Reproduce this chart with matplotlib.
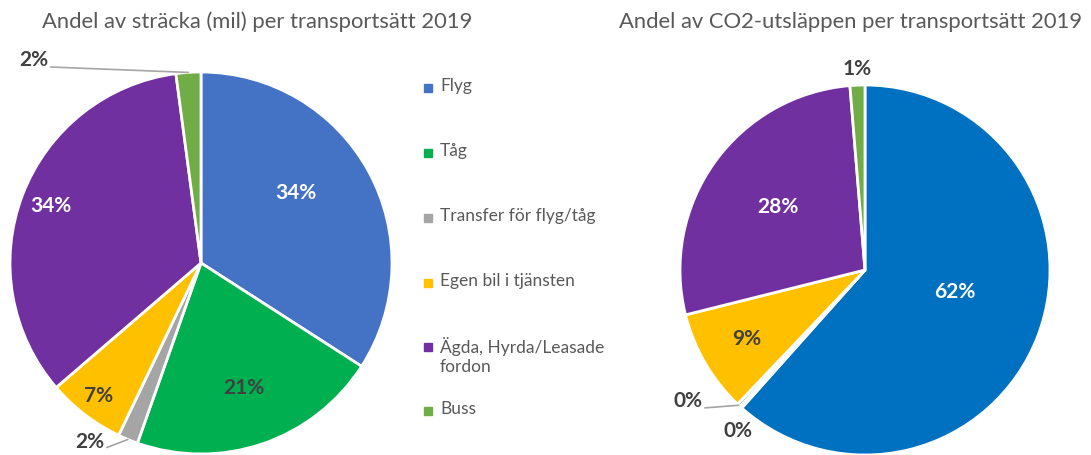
import numpy as np
import matplotlib
matplotlib.use("Agg")
import matplotlib.pyplot as plt
from matplotlib.patches import Rectangle

plt.rcParams['font.family'] = ['Lato', 'DejaVu Sans']

categories = ["Flyg", "Tåg", "Transfer för flyg/tåg", "Egen bil i tjänsten",
              "Ägda, Hyrda/Leasade\nfordon", "Buss"]
distance_share = [34.1, 21.3, 1.7, 6.6, 34.2, 2.1]
co2_share = [61.6, 0.2, 0.3, 9.0, 27.6, 1.3]

left_colors = ["#4472C4", "#00B050", "#A5A5A5", "#FFC000", "#7030A0", "#70AD47"]
right_colors = ["#0070C0", "#00B050", "#A5A5A5", "#FFC000", "#7030A0", "#70AD47"]

# label placement per wedge: (radius fraction, angle or None for mid, colour, leader line)
left_label = [(0.62, 36.5, "white", False), (0.69, None, "#404040", False),
              (1.11, -117.2, "#404040", True), (0.88, None, "#404040", False),
              (0.84, None, "white", False), (1.29, 128.4, "#404040", True)]
right_label = [(0.50, -13.7, "white", False), (1.11, -128.3, "#404040", False),
               (1.165, -139.1, "#404040", True), (0.74, None, "#404040", False),
               (0.58, None, "white", False), (1.09, None, "#404040", False)]

W, H = 1091, 455
fig = plt.figure(figsize=(W / 100, H / 100), dpi=100)


def px_axes(cx, cy, r):
    return fig.add_axes([(cx - r) / W, (H - cy - r) / H, 2 * r / W, 2 * r / H])


def draw_pie(ax, values, colors, label_spec):
    wedges, _ = ax.pie(values, colors=colors, startangle=90, counterclock=False,
                       wedgeprops=dict(edgecolor="white", linewidth=2))
    ax.set_xlim(-1, 1)
    ax.set_ylim(-1, 1)
    for w, v, (dist, ang, col, leader) in zip(wedges, values, label_spec):
        mid = np.deg2rad((w.theta1 + w.theta2) / 2)
        a = mid if ang is None else np.deg2rad(ang)
        txt = "%.0f%%" % v
        lx, ly = dist * np.cos(a), dist * np.sin(a)
        if not leader:
            ax.text(lx, ly, txt, color=col, fontsize=15, fontweight="bold",
                    ha="center", va="center")
        else:
            ax.annotate(txt, xy=(np.cos(mid), np.sin(mid)), xytext=(lx, ly),
                        color=col, fontsize=15, fontweight="bold",
                        ha="right", va="bottom", annotation_clip=False,
                        arrowprops=dict(arrowstyle="-", color="#A5A5A5", lw=1.2,
                                        shrinkA=0, shrinkB=0, relpos=(1, 0.15)))
    return wedges


ax1 = px_axes(201, 263, 191)
draw_pie(ax1, distance_share, left_colors, left_label)
ax2 = px_axes(865, 270, 185)
draw_pie(ax2, co2_share, right_colors, right_label)

fig.text(257 / W, 1 - 22 / H, "Andel av sträcka (mil) per transportsätt 2019",
         ha="center", va="center", fontsize=15.8, color="#595959")
fig.text(851 / W, 1 - 22 / H, "Andel av CO2-utsläppen per transportsätt 2019",
         ha="center", va="center", fontsize=15.8, color="#595959")

# legend
legend_y = [88, 153, 218, 283, 347, 411]
for name, col, y in zip(categories, left_colors, legend_y):
    fig.patches.append(Rectangle((424 / W, 1 - (y + 4) / H), 8 / W, 8 / H,
                                 transform=fig.transFigure, color=col))
    fig.text(440 / W, 1 - (y - 10) / H, name, ha="left", va="top",
             fontsize=12.5, color="#595959", linespacing=1.2)

fig.savefig("out.png", dpi=100, facecolor="white")
